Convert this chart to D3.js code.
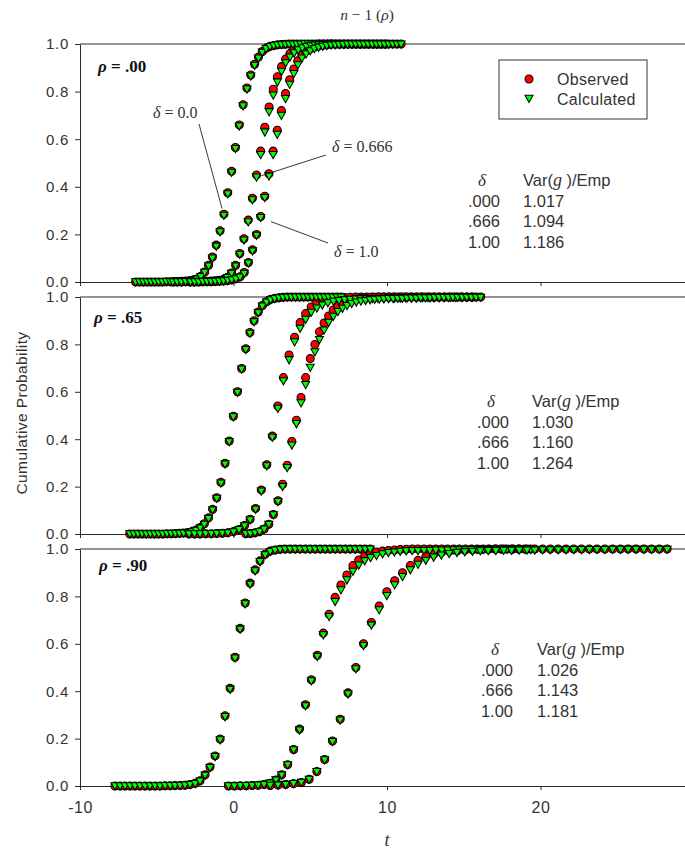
<!DOCTYPE html>
<html>
<head>
<meta charset="utf-8">
<script src="https://cdn.jsdelivr.net/npm/d3@7"></script>
<style>
  body { margin: 0; background: #fff; }
  svg { display: block; }
</style>
</head>
<body>
<svg id="chart" width="685" height="849"></svg>
<script>
// ---------- data: cumulative probability of t, observed vs calculated ----------
// rho = .00
const rho00_d0_t = [-6.375,-6.125,-5.875,-5.625,-5.375,-5.125,-4.875,-4.625,-4.375,-4.125,-3.875,-3.625,-3.375,-3.125,-2.875,-2.625,-2.375,-2.125,-1.875,-1.625,-1.375,-1.125,-0.875,-0.625,-0.375,-0.125,0.125,0.375,0.625,0.875,1.125,1.375,1.625,1.875,2.125,2.375,2.625,2.875,3.125,3.375,3.625,3.875,4.125,4.375,4.625,4.875,5.125,5.375,5.625,5.875,6.125,6.375];
const rho00_d0_obs = [0,0,0,0,0,0,0,0,0.001,0.001,0.002,0.002,0.003,0.004,0.005,0.008,0.013,0.024,0.042,0.07,0.105,0.155,0.215,0.285,0.375,0.465,0.565,0.66,0.745,0.815,0.87,0.915,0.945,0.968,0.982,0.99,0.994,0.997,0.998,0.999,1,1,1,1,1,1,1,1,1,1,1,1];
const rho00_d0_calc = [0,0,0,0,0,0,0,0,0.001,0.001,0.001,0.002,0.002,0.003,0.004,0.007,0.012,0.022,0.04,0.067,0.10,0.15,0.21,0.28,0.37,0.46,0.56,0.655,0.74,0.81,0.865,0.91,0.94,0.965,0.98,0.989,0.993,0.996,0.997,0.998,0.999,0.999,0.999,0.999,1,1,1,1,1,1,1,1];

const rho00_d666_t = [-3.94,-3.67,-3.40,-3.12,-2.85,-2.58,-2.31,-2.04,-1.76,-1.49,-1.22,-0.95,-0.68,-0.40,-0.13,0.14,0.41,0.68,0.96,1.23,1.50,1.77,2.04,2.32,2.59,2.86,3.13,3.40,3.68,3.95,4.22,4.49,4.76,5.04,5.31,5.58,5.85,6.12,6.40,6.67,6.94,7.21,7.48,7.76,8.03,8.30,8.57,8.84,9.12,9.39,9.66,9.93];
const rho00_d666_obs = [0,0,0,0.001,0.001,0.001,0.002,0.002,0.003,0.004,0.005,0.007,0.01,0.02,0.038,0.07,0.12,0.182,0.26,0.352,0.45,0.55,0.65,0.735,0.81,0.862,0.905,0.937,0.96,0.975,0.985,0.991,0.995,0.997,0.998,1,1,1,1,1,1,1,1,1,1,1,1,1,1,1,1,1];
const rho00_d666_calc = [0,0,0,0.001,0.001,0.001,0.002,0.002,0.003,0.004,0.005,0.006,0.009,0.018,0.036,0.067,0.116,0.176,0.252,0.345,0.44,0.535,0.63,0.715,0.785,0.84,0.885,0.92,0.945,0.962,0.975,0.983,0.989,0.992,0.995,0.996,0.997,0.998,0.999,0.999,0.999,0.999,0.999,0.999,0.999,0.999,0.999,0.999,0.999,0.999,0.999,0.999];

const rho00_d1_t = [-2.80,-2.53,-2.26,-1.99,-1.72,-1.46,-1.19,-0.92,-0.65,-0.38,-0.11,0.16,0.43,0.70,0.97,1.24,1.50,1.77,2.04,2.31,2.58,2.85,3.12,3.39,3.66,3.93,4.19,4.46,4.73,5.00,5.27,5.54,5.81,6.08,6.35,6.62,6.88,7.15,7.42,7.69,7.96,8.23,8.50,8.77,9.04,9.31,9.57,9.84,10.11,10.38,10.65,10.92];
const rho00_d1_obs = [0,0,0,0.001,0.001,0.001,0.002,0.003,0.004,0.006,0.009,0.014,0.022,0.04,0.082,0.135,0.2,0.275,0.36,0.455,0.55,0.638,0.72,0.792,0.85,0.895,0.93,0.955,0.97,0.98,0.987,0.992,0.995,0.997,1,1,1,1,1,1,1,1,1,1,1,1,1,1,1,1,1,1];
const rho00_d1_calc = [0,0,0,0.001,0.001,0.001,0.002,0.003,0.004,0.006,0.009,0.013,0.02,0.036,0.079,0.13,0.196,0.27,0.354,0.445,0.535,0.62,0.70,0.77,0.83,0.875,0.912,0.94,0.958,0.971,0.98,0.986,0.99,0.993,0.995,0.996,0.997,0.998,0.999,0.999,0.999,0.999,0.999,0.999,0.999,0.999,0.999,0.999,0.999,0.999,0.999,0.999];

// rho = .65
const rho65_d0_t = [-6.76,-6.49,-6.22,-5.95,-5.68,-5.41,-5.14,-4.87,-4.60,-4.33,-4.06,-3.79,-3.52,-3.25,-2.98,-2.71,-2.44,-2.17,-1.90,-1.63,-1.36,-1.09,-0.82,-0.55,-0.28,-0.01,0.26,0.53,0.80,1.07,1.34,1.61,1.88,2.15,2.42,2.69,2.96,3.23,3.50,3.77,4.04,4.31,4.58,4.85,5.12,5.39,5.66,5.93,6.20,6.47,6.74,7.01];
const rho65_d0_obs = [0,0,0,0,0,0,0,0,0,0.001,0.001,0.002,0.003,0.004,0.006,0.01,0.017,0.027,0.043,0.068,0.104,0.153,0.218,0.298,0.392,0.497,0.6,0.698,0.782,0.85,0.9,0.937,0.964,0.98,0.99,0.995,0.997,0.999,1,1,1,1,1,1,1,1,1,1,1,1,1,1];
const rho65_d0_calc = [0,0,0,0,0,0,0,0,0,0.001,0.001,0.001,0.002,0.003,0.005,0.009,0.015,0.025,0.04,0.065,0.101,0.15,0.214,0.295,0.389,0.494,0.597,0.695,0.778,0.846,0.895,0.933,0.961,0.978,0.988,0.993,0.996,0.998,0.999,0.999,0.999,0.999,0.999,0.999,0.999,0.999,0.999,0.999,0.999,0.999,0.999,0.999];

const rho65_d666_t = [-2.90,-2.54,-2.18,-1.81,-1.45,-1.09,-0.73,-0.37,0.00,0.36,0.72,1.08,1.44,1.81,2.17,2.53,2.89,3.25,3.62,3.98,4.34,4.70,5.06,5.43,5.79,6.15,6.51,6.87,7.24,7.60,7.96,8.32,8.68,9.05,9.41,9.77,10.13,10.49,10.86,11.22,11.58,11.94,12.30,12.67,13.03,13.39,13.75,14.11,14.48,14.84,15.20,15.56];
const rho65_d666_obs = [0,0,0,0.001,0.001,0.002,0.003,0.005,0.01,0.019,0.036,0.062,0.108,0.186,0.292,0.413,0.54,0.66,0.755,0.83,0.892,0.93,0.958,0.975,0.985,0.991,0.995,0.997,0.998,0.999,1,1,1,1,1,1,1,1,1,1,1,1,1,1,1,1,1,1,1,1,1,1];
const rho65_d666_calc = [0,0,0,0.001,0.001,0.002,0.003,0.005,0.009,0.018,0.034,0.059,0.104,0.181,0.287,0.407,0.53,0.646,0.735,0.81,0.867,0.905,0.935,0.953,0.966,0.975,0.981,0.985,0.988,0.99,0.991,0.992,0.993,0.993,0.994,0.994,0.995,0.995,0.995,0.996,0.996,0.996,0.997,0.997,0.997,0.997,0.998,0.998,0.998,0.998,0.998,0.998];

const rho65_d1_t = [0.8,1.1,1.4,1.7,2.0,2.3,2.6,2.9,3.2,3.5,3.8,4.1,4.4,4.7,5.0,5.3,5.6,5.9,6.2,6.5,6.8,7.1,7.4,7.7,8.0,8.3,8.6,8.9,9.2,9.5,9.8,10.1,10.4,10.7,11.0,11.3,11.6,11.9,12.2,12.5,12.8,13.1,13.4,13.7,14.0,14.3,14.6,14.9,15.2,15.5,15.8,16.1];
const rho65_d1_obs = [0.001,0.002,0.005,0.01,0.021,0.041,0.082,0.14,0.21,0.29,0.39,0.48,0.576,0.66,0.74,0.8,0.853,0.89,0.92,0.945,0.96,0.972,0.98,0.986,0.99,0.994,0.996,0.998,0.999,1,1,1,1,1,1,1,1,1,1,1,1,1,1,1,1,1,1,1,1,1,1,1];
const rho65_d1_calc = [0.001,0.002,0.005,0.01,0.02,0.04,0.08,0.136,0.2,0.28,0.375,0.465,0.553,0.63,0.703,0.768,0.82,0.86,0.893,0.918,0.938,0.952,0.963,0.972,0.978,0.982,0.985,0.988,0.99,0.991,0.992,0.993,0.993,0.994,0.994,0.995,0.995,0.995,0.996,0.996,0.996,0.997,0.997,0.997,0.997,0.998,0.998,0.998,0.998,0.998,0.998,0.998];

// rho = .90
const rho90_d0_t = [-7.72,-7.39,-7.07,-6.74,-6.42,-6.09,-5.76,-5.44,-5.11,-4.79,-4.46,-4.13,-3.81,-3.48,-3.16,-2.83,-2.50,-2.18,-1.85,-1.53,-1.20,-0.87,-0.55,-0.22,0.10,0.43,0.76,1.08,1.41,1.73,2.06,2.39,2.71,3.04,3.36,3.69,4.02,4.34,4.67,4.99,5.32,5.65,5.97,6.30,6.62,6.95,7.28,7.60,7.93,8.25,8.58,8.91];
const rho90_d0_obs = [0,0,0,0,0,0,0,0,0,0,0.001,0.001,0.002,0.002,0.003,0.006,0.011,0.022,0.047,0.08,0.127,0.198,0.296,0.412,0.543,0.665,0.772,0.856,0.912,0.95,0.978,0.991,0.996,0.999,1,1,1,1,1,1,1,1,1,1,1,1,1,1,1,1,1,1];
const rho90_d0_calc = [0,0,0,0,0,0,0,0,0,0,0.001,0.001,0.001,0.002,0.003,0.006,0.01,0.02,0.045,0.077,0.124,0.194,0.292,0.408,0.539,0.661,0.768,0.851,0.907,0.946,0.975,0.989,0.995,0.998,0.999,0.999,0.999,0.999,0.999,0.999,0.999,0.999,0.999,0.999,0.999,0.999,0.999,0.999,0.999,0.999,0.999,0.999];

const rho90_d666_t = [-0.33,0.06,0.44,0.83,1.21,1.60,1.99,2.37,2.76,3.14,3.53,3.92,4.30,4.69,5.07,5.46,5.85,6.23,6.62,7.00,7.39,7.78,8.16,8.55,8.93,9.32,9.71,10.09,10.48,10.86,11.25,11.64,12.02,12.41,12.79,13.18,13.57,13.95,14.34,14.72,15.11,15.50,15.88,16.27,16.65,17.04,17.43,17.81,18.20,18.58,18.97,19.36];
const rho90_d666_obs = [0,0,0.001,0.001,0.002,0.003,0.006,0.012,0.025,0.047,0.09,0.154,0.24,0.343,0.448,0.552,0.645,0.725,0.796,0.848,0.89,0.93,0.954,0.97,0.98,0.987,0.991,0.994,0.996,0.998,0.999,1,1,1,1,1,1,1,1,1,1,1,1,1,1,1,1,1,1,1,1,1];
const rho90_d666_calc = [0,0,0.001,0.001,0.002,0.003,0.006,0.012,0.025,0.046,0.089,0.152,0.236,0.338,0.443,0.546,0.637,0.714,0.778,0.827,0.869,0.905,0.932,0.95,0.963,0.972,0.979,0.984,0.987,0.99,0.992,0.993,0.993,0.994,0.994,0.995,0.995,0.995,0.996,0.996,0.996,0.997,0.997,0.997,0.997,0.998,0.998,0.998,0.998,0.998,0.998,0.998];

const rho90_d1_t = [2.39,2.90,3.40,3.91,4.42,4.93,5.43,5.94,6.45,6.95,7.46,7.97,8.47,8.98,9.49,9.99,10.50,11.01,11.52,12.02,12.53,13.04,13.54,14.05,14.56,15.07,15.57,16.08,16.59,17.09,17.60,18.11,18.61,19.12,19.63,20.14,20.64,21.15,21.66,22.16,22.67,23.18,23.68,24.19,24.70,25.21,25.71,26.22,26.73,27.23,27.74,28.25];
const rho90_d1_obs = [0.002,0.004,0.006,0.01,0.015,0.028,0.061,0.112,0.19,0.282,0.393,0.5,0.6,0.69,0.759,0.82,0.866,0.9,0.93,0.952,0.968,0.978,0.985,0.99,0.993,0.995,0.997,0.998,0.999,1,1,1,1,1,1,1,1,1,1,1,1,1,1,1,1,1,1,1,1,1,1,1];
const rho90_d1_calc = [0.002,0.004,0.006,0.01,0.015,0.028,0.06,0.11,0.187,0.278,0.388,0.494,0.592,0.679,0.743,0.803,0.848,0.883,0.912,0.935,0.952,0.965,0.974,0.98,0.985,0.988,0.99,0.992,0.993,0.993,0.994,0.994,0.995,0.995,0.995,0.996,0.996,0.996,0.996,0.997,0.997,0.997,0.997,0.997,0.998,0.998,0.998,0.998,0.998,0.998,0.998,0.998];

// Var(g)/Emp table values
const deltaLabels = [".000", ".666", "1.00"];
const varRatio00 = ["1.017", "1.094", "1.186"];
const varRatio65 = ["1.030", "1.160", "1.264"];
const varRatio90 = ["1.026", "1.143", "1.181"];

const rhoLabels = [".00", ".65", ".90"];
const yTickValues = [0, 0.2, 0.4, 0.6, 0.8, 1.0];
const xTickValues = [-10, 0, 10, 20];
const seriesNames = ["Observed", "Calculated"];

// ---------- layout ----------
const svg = d3.select("#chart");
const SANS = "'Liberation Sans', Arial, sans-serif";
const SERIF = "'Liberation Serif', 'Times New Roman', serif";
const TEXT = "#333";
const AXIS = "#2a2a2a";
const RED = "#ff0000", GREEN = "#00ff00";

const x = d3.scaleLinear().domain([-10, 30]).range([80, 694]);

const panels = [
  { rho: rhoLabels[0], yRange: [282, 44], ratios: varRatio00,
    curves: [[rho00_d0_t, rho00_d0_obs, rho00_d0_calc], [rho00_d666_t, rho00_d666_obs, rho00_d666_calc], [rho00_d1_t, rho00_d1_obs, rho00_d1_calc]],
    rhoPos: [98, 72], table: { col1: 500, col2: 523, head: 186, delta: 482 } },
  { rho: rhoLabels[1], yRange: [534, 297], ratios: varRatio65,
    curves: [[rho65_d0_t, rho65_d0_obs, rho65_d0_calc], [rho65_d666_t, rho65_d666_obs, rho65_d666_calc], [rho65_d1_t, rho65_d1_obs, rho65_d1_calc]],
    rhoPos: [94, 323], table: { col1: 509, col2: 532, head: 407, delta: 491 } },
  { rho: rhoLabels[2], yRange: [786, 549], ratios: varRatio90,
    curves: [[rho90_d0_t, rho90_d0_obs, rho90_d0_calc], [rho90_d666_t, rho90_d666_obs, rho90_d666_calc], [rho90_d1_t, rho90_d1_obs, rho90_d1_calc]],
    rhoPos: [99, 571], table: { col1: 513, col2: 537, head: 655, delta: 495 } }
];

const triPath = "M-4,-3.2L4,-3.2L0,4Z";

function drawCircle(sel) {
  sel.attr("r", 4).attr("fill", RED).attr("stroke", "#000").attr("stroke-width", 1.05);
}
function drawTriangle(sel) {
  sel.attr("d", triPath).attr("fill", GREEN).attr("stroke", "#000").attr("stroke-width", 1.05);
}

const yScales = [];

panels.forEach((p, pi) => {
  const y = d3.scaleLinear().domain([0, 1]).range(p.yRange);
  yScales.push(y);
  const g = svg.append("g");

  // top frame line at 1.0
  g.append("line")
    .attr("x1", x(-10)).attr("x2", x(30))
    .attr("y1", y(1)).attr("y2", y(1))
    .attr("stroke", AXIS).attr("stroke-width", 1);

  // x axis along 0.0; the domain line runs on to the right edge
  const xAxis = d3.axisBottom(x).tickValues(xTickValues).tickSize(4).tickSizeOuter(0).tickPadding(12)
    .tickFormat(d => d < 0 ? "-" + Math.abs(d) : String(d));
  const gx = g.append("g").attr("transform", `translate(0,${y(0)})`).call(xAxis);
  gx.select(".domain").attr("stroke", AXIS);
  gx.selectAll(".tick line").attr("stroke", AXIS);
  gx.selectAll(".tick text").attr("font-family", SANS).attr("font-size", 16)
    .attr("fill", TEXT).attr("letter-spacing", "0.5px");
  if (pi !== 2) gx.selectAll(".tick text").remove();

  // y axis
  const yAxis = d3.axisLeft(y).tickValues(yTickValues).tickSize(5).tickSizeOuter(0).tickPadding(6)
    .tickFormat(d3.format(".1f"));
  const gy = g.append("g").attr("transform", `translate(${x(-10)},0)`).call(yAxis);
  gy.select(".domain").attr("stroke", AXIS);
  gy.selectAll(".tick line").attr("stroke", AXIS);
  gy.selectAll(".tick text").attr("font-family", SANS).attr("font-size", 15)
    .attr("fill", TEXT).attr("letter-spacing", "0.7px");

  // observed points first, calculated on top
  p.curves.forEach(([t, obs]) => {
    g.append("g").selectAll("circle")
      .data(t.map((tv, i) => ({ t: tv, v: obs[i] })))
      .join("circle")
      .attr("cx", d => x(d.t)).attr("cy", d => y(d.v))
      .call(drawCircle);
  });
  p.curves.forEach(([t, , calc]) => {
    g.append("g").selectAll("path")
      .data(t.map((tv, i) => ({ t: tv, v: calc[i] })))
      .join("path")
      .attr("transform", d => `translate(${x(d.t)},${y(d.v)})`)
      .call(drawTriangle);
  });

  // rho label
  const rl = g.append("text").attr("x", p.rhoPos[0]).attr("y", p.rhoPos[1])
    .attr("font-family", SERIF).attr("font-size", 17).attr("font-weight", "bold").attr("fill", "#111");
  rl.append("tspan").attr("font-style", "italic").text("ρ");
  rl.append("tspan").text(" = " + p.rho);

  // Var(g)/Emp table
  const tb = p.table;
  g.append("text").attr("x", tb.delta).attr("y", tb.head).attr("text-anchor", "middle")
    .attr("font-family", SERIF).attr("font-style", "italic").attr("font-size", 17).attr("fill", TEXT).text("δ");
  const hd = g.append("text").attr("x", tb.col2).attr("y", tb.head)
    .attr("font-family", SANS).attr("font-size", 16.5).attr("fill", TEXT);
  hd.append("tspan").text("Var(");
  hd.append("tspan").attr("font-family", SERIF).attr("font-style", "italic").attr("font-size", 18).text("g");
  hd.append("tspan").text(" )/Emp");
  deltaLabels.forEach((dl, i) => {
    g.append("text").attr("x", tb.col1).attr("y", tb.head + 20.5 * (i + 1)).attr("text-anchor", "end")
      .attr("font-family", SANS).attr("font-size", 16.5).attr("fill", TEXT).text(dl);
    g.append("text").attr("x", tb.col2).attr("y", tb.head + 20.5 * (i + 1))
      .attr("font-family", SANS).attr("font-size", 16.5).attr("fill", TEXT).text(p.ratios[i]);
  });
});

// ---------- annotations on the rho = .00 panel ----------
const yTop = yScales[0];
const annotations = [
  { text: "0.0",   curve: 0, idx: 23, label: [153, 118], from: [199, 124], gap: 7 },
  { text: "0.666", curve: 1, idx: 20, label: [332, 152], from: [326, 155], gap: 5 },
  { text: "1.0",   curve: 2, idx: 17, label: [334, 257], from: [328, 243], gap: 11 }
];
annotations.forEach(a => {
  const [t, , calc] = panels[0].curves[a.curve];
  const px = x(t[a.idx]), py = yTop(calc[a.idx]);
  const dx = px - a.from[0], dy = py - a.from[1];
  const len = Math.hypot(dx, dy);
  const k = (len - a.gap) / len;
  svg.append("line")
    .attr("x1", a.from[0]).attr("y1", a.from[1])
    .attr("x2", a.from[0] + dx * k).attr("y2", a.from[1] + dy * k)
    .attr("stroke", "#222").attr("stroke-width", 0.9);
  const lt = svg.append("text").attr("x", a.label[0]).attr("y", a.label[1])
    .attr("font-family", SERIF).attr("font-size", 16).attr("fill", TEXT);
  lt.append("tspan").attr("font-style", "italic").text("δ");
  lt.append("tspan").text(" = " + a.text);
});

// ---------- legend ----------
const lg = svg.append("g");
lg.append("rect").attr("x", 499).attr("y", 60).attr("width", 148).attr("height", 59)
  .attr("fill", "#fff").attr("stroke", "#333").attr("stroke-width", 1);
lg.append("circle").attr("cx", 529).attr("cy", 79).call(drawCircle);
lg.append("path").attr("transform", "translate(529,98.5)").call(drawTriangle);
seriesNames.forEach((s, i) => {
  lg.append("text").attr("x", 557).attr("y", 85 + 20 * i)
    .attr("font-family", SANS).attr("font-size", 16).attr("letter-spacing", "0.3px")
    .attr("fill", TEXT).text(s);
});

// ---------- titles ----------
const title = svg.append("text").attr("x", 367).attr("y", 20).attr("text-anchor", "middle")
  .attr("font-family", SERIF).attr("font-size", 15.5).attr("fill", TEXT);
title.append("tspan").attr("font-style", "italic").text("n");
title.append("tspan").text(" − 1 (");
title.append("tspan").attr("font-style", "italic").text("ρ");
title.append("tspan").text(")");

svg.append("text")
  .attr("transform", "translate(27,413) rotate(-90)")
  .attr("text-anchor", "middle")
  .attr("font-family", SANS).attr("font-size", 15.5).attr("letter-spacing", "0.4px")
  .attr("fill", TEXT).text("Cumulative Probability");

svg.append("text").attr("x", x(10)).attr("y", 846).attr("text-anchor", "middle")
  .attr("font-family", SERIF).attr("font-style", "italic").attr("font-size", 18)
  .attr("fill", TEXT).text("t");
</script>
</body>
</html>
